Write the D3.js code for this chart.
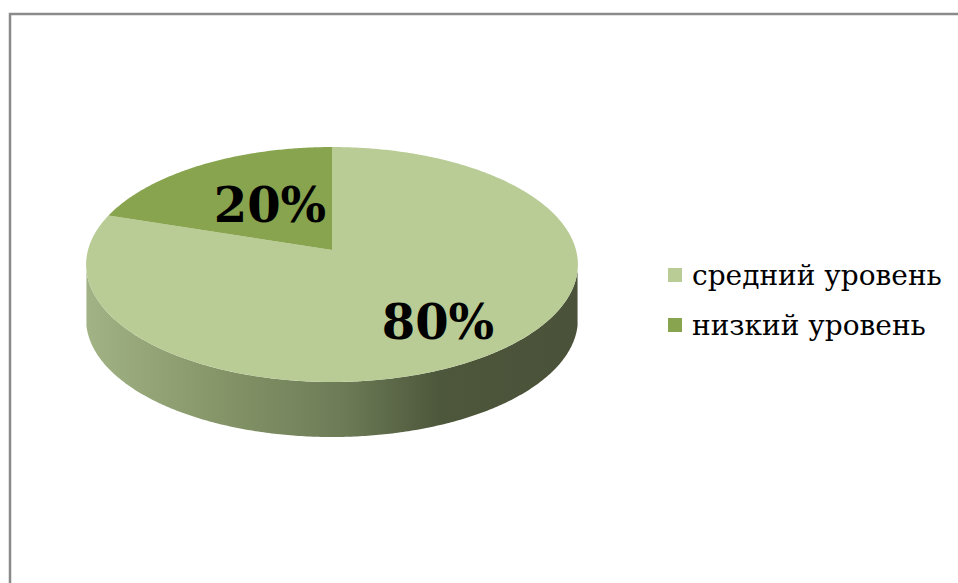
<!DOCTYPE html>
<html>
<head>
<meta charset="utf-8">
<script src="https://cdn.jsdelivr.net/npm/d3@7"></script>
<style>
  body { margin: 0; background: #fff; }
  svg { display: block; }
  .legend text { font-family: "DejaVu Serif", serif; }
</style>
</head>
<body>
<div id="chart"></div>
<script>
// data
const categories = ["средний уровень", "низкий уровень"];
const values = [80, 20];
const labels = ["80%", "20%"];
const colors = ["#b9cc95", "#88a44f"];

const width = 958, height = 583;

const svg = d3.select("#chart").append("svg")
  .attr("width", width)
  .attr("height", height);

// frame (right and bottom sides fall outside the picture)
svg.append("rect")
  .attr("x", 10).attr("y", 14)
  .attr("width", 1000).attr("height", 1000)
  .attr("fill", "#fff")
  .attr("stroke", "#8a8a8a")
  .attr("stroke-width", 2.5);

// perspective pie geometry
const cx = 332, cy = 250, R = 244, K = 115.7, dist = 8.1, depth = 55;

function proj(a, dy) {
  const s = dist / (dist + Math.cos(a));
  return [cx + R * Math.sin(a) * s, cy - K * Math.cos(a) * s + (dy || 0)];
}

const pie = d3.pie().sort(null).value(d => d)(values);
const line = d3.line();

function arcPoints(a0, a1, dy) {
  const n = Math.max(2, Math.ceil(Math.abs(a1 - a0) / 0.01));
  return d3.range(n + 1).map(i => proj(a0 + (a1 - a0) * i / n, dy));
}

// side gradient
const defs = svg.append("defs");
const grad = defs.append("linearGradient")
  .attr("id", "side")
  .attr("gradientUnits", "userSpaceOnUse")
  .attr("x1", cx - R).attr("x2", cx + R)
  .attr("y1", 0).attr("y2", 0);
[[0, "#a1b285"], [0.27, "#859568"], [0.52, "#6d7c57"], [0.72, "#4d573b"], [1, "#4a5239"]]
  .forEach(s => grad.append("stop").attr("offset", s[0]).attr("stop-color", s[1]));

// side wall (front half)
const aL = Math.PI * 100 / 180, aR = Math.PI * 260 / 180;
const sidePts = arcPoints(aL, aR, 0).concat(arcPoints(aR, aL, depth));
svg.append("path")
  .attr("d", line(sidePts) + "Z")
  .attr("fill", "url(#side)");

// top faces
svg.selectAll("path.slice")
  .data(pie)
  .enter().append("path")
  .attr("class", "slice")
  .attr("d", d => line([[cx, cy]].concat(arcPoints(d.startAngle, d.endAngle, 0))) + "Z")
  .attr("fill", (d, i) => colors[i]);

// data labels
const labelPos = [[438, 339], [270, 222]];
svg.selectAll("text.lbl")
  .data(labels)
  .enter().append("text")
  .attr("class", "lbl")
  .attr("x", (d, i) => labelPos[i][0])
  .attr("y", (d, i) => labelPos[i][1])
  .attr("text-anchor", "middle")
  .attr("font-family", "DejaVu Serif")
  .attr("font-weight", "bold")
  .attr("font-size", 48)
  .attr("fill", "#000")
  .text(d => d);

// legend
const legend = svg.append("g").attr("class", "legend").attr("transform", "translate(668,268)");
const item = legend.selectAll("g")
  .data(categories)
  .enter().append("g")
  .attr("transform", (d, i) => "translate(0," + i * 50 + ")");
item.append("rect")
  .attr("width", 14).attr("height", 14)
  .attr("fill", (d, i) => colors[i]);
item.append("text")
  .attr("x", 24).attr("y", 17)
  .attr("font-size", 28)
  .attr("fill", "#000")
  .text(d => d);
</script>
</body>
</html>
